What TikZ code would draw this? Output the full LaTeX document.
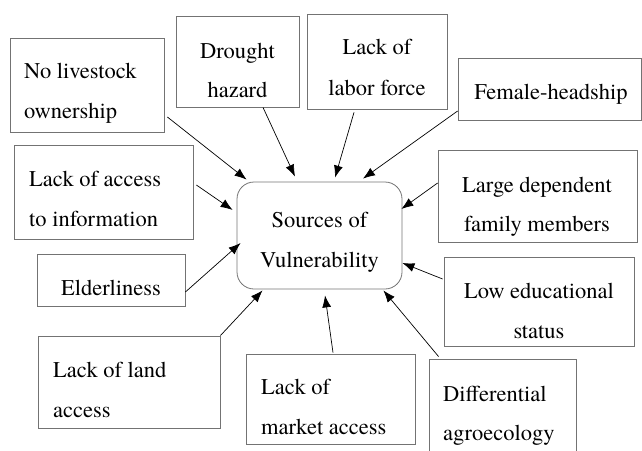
\documentclass[tikz,border=0pt]{standalone}
\usepackage{fontspec}
\newfontfamily\tnr{texgyretermes-regular.otf}
\usetikzlibrary{arrows.meta}
\tikzset{
  box/.style={draw=black!55, line width=0.8pt, rectangle, inner sep=0pt},
  hub/.style={draw=black!55, line width=0.8pt, rectangle, rounded corners=17pt, inner sep=0pt},
  txt/.style={inner sep=0pt, font=\tnr\fontsize{22.5}{27}\selectfont},
  lt/.style={txt, anchor=base west},
  ct/.style={txt, anchor=base},
  arr/.style={line width=0.7pt, -{Latex[length=12pt,width=9pt]}}
}
\begin{document}
\begin{tikzpicture}[x=1pt,y=-1pt]
\useasboundingbox (0,0) rectangle (642,450);
\clip (0,0) rectangle (642,450);
% boxes
\node[hub, minimum width=165pt, minimum height=107pt] (C) at (319.5,235.5) {};
\node[box, minimum width=154pt, minimum height=94pt] (N) at (87,85) {};
\node[box, minimum width=123pt, minimum height=91pt] (D) at (237.5,61.5) {};
\node[box, minimum width=140pt, minimum height=95pt] (Lb) at (377,61.5) {};
\node[box, minimum width=183pt, minimum height=62pt] (F) at (549.5,89) {};
\node[box, minimum width=199pt, minimum height=92pt] (L) at (537.5,196) {};
\node[box, minimum width=190pt, minimum height=89pt] (W) at (539,301.5) {};
\node[box, minimum width=147pt, minimum height=106pt] (Df) at (502.5,412) {};
\node[box, minimum width=169pt, minimum height=90pt] (M) at (330.5,399) {};
\node[box, minimum width=182pt, minimum height=92pt] (La) at (129,382) {};
\node[box, minimum width=148pt, minimum height=52pt] (E) at (111,280) {};
\node[box, minimum width=179pt, minimum height=94pt] (I) at (103.5,192) {};
% texts
\node[ct] (C1) at (319.5,227) {Sources of};
\node[ct] (C2) at (319.5,267) {Vulnerability};
\node[lt] (N1) at (24,78) {No livestock};
\node[lt] (N2) at (24,118) {ownership};
\node[ct] (D1) at (237.5,58) {Drought};
\node[ct] (D2) at (237.5,97) {hazard};
\node[ct] (Lb1) at (377,54) {Lack of};
\node[ct] (Lb2) at (377,95) {labor force};
\node[ct] (F1) at (551,99) {Female-headship};
\node[ct] (L1) at (537,192) {Large dependent};
\node[ct] (L2) at (537,231) {family members};
\node[ct] (W1) at (539,298) {Low educational};
\node[ct] (W2) at (539,338) {status};
\node[lt] (Df1) at (443,401) {Differential};
\node[lt] (Df2) at (443,440) {agroecology};
\node[lt] (M1) at (261,394) {Lack of};
\node[lt] (M2) at (261,434) {market access};
\node[lt] (La1) at (53,377) {Lack of land};
\node[lt] (La2) at (53,417) {access};
\node[ct] (E1) at (111,295) {Elderliness};
\node[lt] (I1) at (29,186) {Lack of access};
\node[lt] (I2) at (29,226) {to information};
% connectors
\draw[arr] ([xshift=3pt,yshift=-32pt]N.east) -- ([xshift=10pt,yshift=2pt]C.north west);
\draw[arr] ([xshift=25.5pt]D.south) -- ([xshift=-24.5pt,yshift=5pt]C.north);
\draw[arr] ([xshift=-23pt,yshift=-3pt]Lb.south) -- ([xshift=15.5pt,yshift=4pt]C.north);
\draw[arr] ([yshift=-22pt]F.west) -- ([xshift=43.5pt,yshift=3pt]C.north);
\draw[arr] ([yshift=13pt]L.west) -- ([xshift=-1pt,yshift=26.5pt]C.east);
\draw[arr] ([xshift=-1pt,yshift=22.5pt]W.west) -- ([yshift=-27.5pt]C.east);
\draw[arr] ([xshift=10pt,yshift=2pt]Df.north west) -- ([xshift=-19pt,yshift=-1pt]C.south east);
\draw[arr] ([xshift=2.5pt,yshift=1pt]M.north) -- ([xshift=5.5pt,yshift=-6pt]C.south);
\draw[arr] (La.north east) -- ([xshift=26pt,yshift=-1pt]C.south west);
\draw[arr] ([yshift=-12pt]E.east) -- ([xshift=4pt,yshift=-7.5pt]C.west);
\draw[arr] ([xshift=3pt,yshift=7pt]I.east) -- ([xshift=-4pt,yshift=25.5pt]C.west);
\end{tikzpicture}
\end{document}
